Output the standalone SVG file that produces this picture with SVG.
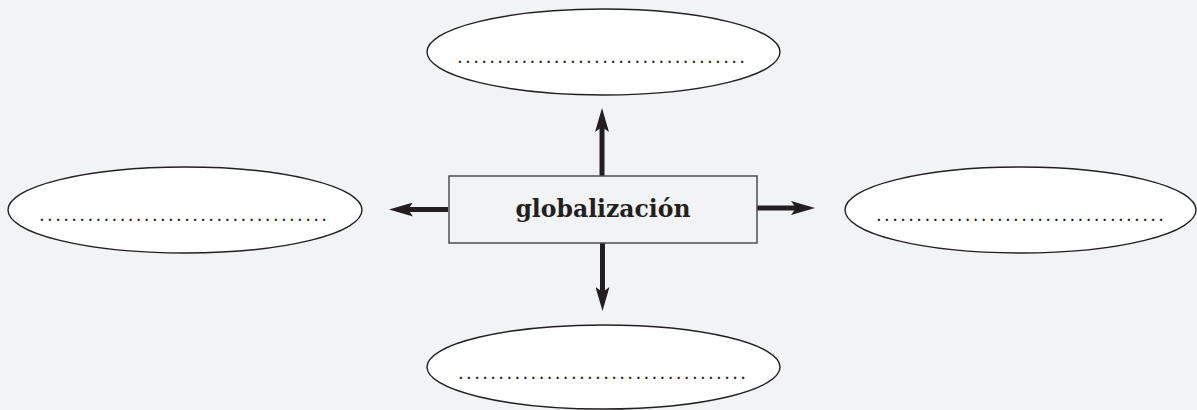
<svg xmlns="http://www.w3.org/2000/svg" width="1197" height="410" viewBox="0 0 1197 410">
<style>
.oval{fill:#ffffff;stroke:#231f20;stroke-width:1.4}
.dots{font-family:"DejaVu Serif","Liberation Serif",serif;font-size:18px;fill:#231f20}
.box{fill:#f2f3f5;stroke:#4d4d4f;stroke-width:1.5}
.lbl{font-family:"DejaVu Serif","Liberation Serif",serif;font-size:23.5px;font-weight:bold;fill:#231f20;text-anchor:middle}
.conn{stroke:#231f20;stroke-width:5;fill:none;marker-end:url(#ah)}
</style>
<defs>
<marker id="ah" viewBox="0 -7 24 14" refX="12" refY="0" markerWidth="24" markerHeight="14" markerUnits="userSpaceOnUse" orient="auto">
<path d="M0,-7 L24,0 L0,7 L5,0 Z" fill="#231f20"/>
</marker>
</defs>
<rect width="1197" height="410" fill="#f2f3f5"/>
<g id="connectors">
<line class="conn" x1="602" y1="176" x2="602" y2="120"/>
<line class="conn" x1="602.5" y1="243" x2="602.5" y2="299"/>
<line class="conn" x1="448" y1="209.5" x2="401" y2="209.5"/>
<line class="conn" x1="757" y1="208" x2="803" y2="208"/>
</g>
<g id="center">
<rect class="box" x="449" y="176" width="308" height="67"/>
<text class="lbl" x="603" y="216.5">globalización</text>
</g>
<g id="top">
<ellipse class="oval" cx="603.5" cy="52" rx="176.5" ry="43"/>
<text class="dots" x="457" y="63" textLength="288" lengthAdjust="spacing">....................................</text>
</g>
<g id="left">
<ellipse class="oval" cx="185" cy="210" rx="177" ry="43"/>
<text class="dots" x="39" y="221" textLength="288" lengthAdjust="spacing">....................................</text>
</g>
<g id="right">
<ellipse class="oval" cx="1020.5" cy="210" rx="175.5" ry="43"/>
<text class="dots" x="876" y="221" textLength="288" lengthAdjust="spacing">....................................</text>
</g>
<g id="bottom">
<ellipse class="oval" cx="603.5" cy="367" rx="176.5" ry="42"/>
<text class="dots" x="458" y="379" textLength="288" lengthAdjust="spacing">....................................</text>
</g>
</svg>
